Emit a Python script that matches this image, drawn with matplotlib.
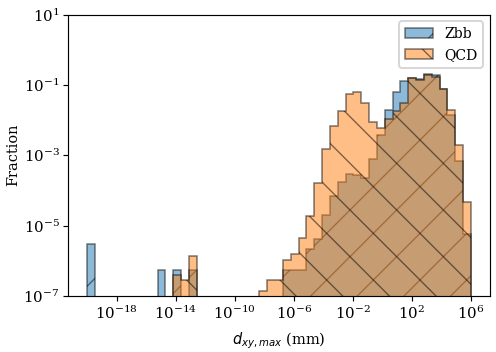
import numpy as np
import matplotlib

matplotlib.use("Agg")
import matplotlib.pyplot as plt
from matplotlib.ticker import NullLocator

# 49 log-spaced bins from 1e-20 to 1e6 mm
bin_edges = np.logspace(-20, 6, 50)
labels = ["Zbb", "QCD"]

# fraction per bin (bin index -> value)
zbb_frac = {
    0: 3.1e-6, 9: 5.4e-7, 11: 5.4e-7, 13: 5.4e-7,
    25: 5.5e-7, 26: 5.5e-7, 27: 5.5e-7, 28: 2.1e-6, 29: 4.3e-6,
    30: 1.95e-5, 31: 6.8e-5, 32: 1.75e-4, 33: 3.0e-4, 34: 2.7e-4,
    35: 2.2e-4, 36: 7.7e-4, 37: 3.7e-3, 38: 1.98e-2, 39: 6.25e-2,
    40: 0.128, 41: 0.155, 42: 0.15, 43: 0.2, 44: 0.186,
    45: 7.8e-2, 46: 1.36e-2, 47: 6.9e-4, 48: 5.8e-6,
}
qcd_frac = {
    11: 4.0e-7, 12: 2.8e-7, 13: 1.33e-6,
    22: 1.39e-7, 23: 2.8e-7, 24: 2.8e-7, 25: 1.08e-6, 26: 1.52e-6,
    27: 4.4e-6, 28: 1.85e-5, 29: 1.65e-4, 30: 1.5e-3, 31: 6.8e-3,
    32: 1.81e-2, 33: 5.6e-2, 34: 6.4e-2, 35: 3.1e-2, 36: 8.6e-3,
    37: 6.1e-3, 38: 1.1e-2, 39: 1.81e-2, 40: 3.15e-2, 41: 0.16,
    42: 0.134, 43: 0.19, 44: 0.166, 45: 7.8e-2, 46: 1.9e-2,
    47: 1.9e-3, 48: 4.8e-5,
}


def to_weights(frac):
    w = np.zeros(len(bin_edges) - 1)
    for k, v in frac.items():
        w[k] = v
    return w


DPI = 140
px = 72 / DPI  # points per pixel

plt.rcParams["font.family"] = "serif"
plt.rcParams["font.size"] = 14.5 * px
plt.rcParams["hatch.linewidth"] = 0.7

fig, ax = plt.subplots(figsize=(496 / DPI, 352 / DPI), dpi=DPI)
fig.subplots_adjust(left=68 / 496, right=490 / 496, bottom=1 - 296 / 352, top=1 - 14.5 / 352)

centers = np.sqrt(bin_edges[:-1] * bin_edges[1:])
ax.hist(centers, bins=bin_edges, weights=to_weights(zbb_frac), histtype="stepfilled",
        color="C0", edgecolor="k", alpha=0.5, hatch="/", lw=0.8, label=labels[0])
ax.hist(centers, bins=bin_edges, weights=to_weights(qcd_frac), histtype="stepfilled",
        color="C1", edgecolor="k", alpha=0.5, hatch="\\", lw=0.8, label=labels[1])

ax.set_xscale("log")
ax.set_yscale("log")
ax.set_ylim(1e-7, 1e1)
ax.set_xticks([1e-18, 1e-14, 1e-10, 1e-6, 1e-2, 1e2, 1e6])
ax.set_yticks([1e-7, 1e-5, 1e-3, 1e-1, 1e1])
ax.xaxis.set_minor_locator(NullLocator())
ax.yaxis.set_minor_locator(NullLocator())
ax.tick_params(length=2.6, width=0.6, pad=1.8, labelsize=15 * px)
for s in ax.spines.values():
    s.set_linewidth(0.6)

ax.set_xlabel(r"$d_{xy,max}$ (mm)", labelpad=4.5)
ax.set_ylabel("Fraction", labelpad=1.5)
ax.legend(loc="upper right", fontsize=14 * px)

fig.savefig("out.png", dpi=DPI)
